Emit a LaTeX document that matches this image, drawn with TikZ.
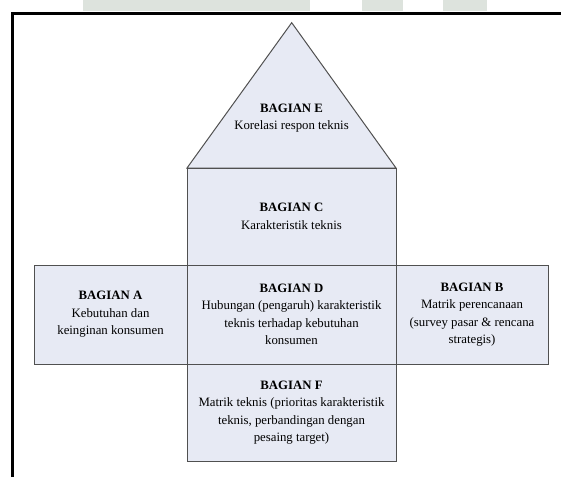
\documentclass[tikz,border=0pt]{standalone}
\usepackage{fontspec}
\setmainfont{Liberation Serif}
\usetikzlibrary{positioning}
\definecolor{boxfill}{HTML}{E7EAF4}
\definecolor{boxline}{HTML}{505050}
\definecolor{markfill}{HTML}{DDE3DD}
\tikzset{
  bagian/.style={fill=boxfill,draw=boxline,line width=1pt,line join=miter},
  isi/.style={align=center,inner sep=0pt,text=black,font=\fontsize{12.8}{17.5}\selectfont}
}

\begin{document}
\begin{tikzpicture}[x=1pt,y=-1pt]
\useasboundingbox (0,0) rectangle (561,477);
%watermark at the top
\fill[markfill] (83,0) rectangle (310,11);
\fill[markfill] (362,0) rectangle (403,11);
\fill[markfill] (443,0) rectangle (487,11);
%frame
\draw[line width=3pt] (12.5,477) -- (12.5,13) -- (561,13);
%roof
\draw[bagian] (187,168) -- (291.7,22.7) -- (396,168) -- cycle;
%rooms
\draw[bagian] (187,168) rectangle (396,265);
\draw[bagian] (34,265) rectangle (187,364);
\draw[bagian] (187,265) rectangle (396,364);
\draw[bagian] (396,265) rectangle (548,364);
\draw[bagian] (187,364) rectangle (396,461);
%texts
\node[isi] (bagE) at (291.5,118) {\textbf{BAGIAN E}\\Korelasi respon teknis};
\node[isi] (bagC) at (291.5,216.5) {\textbf{BAGIAN C}\\Karakteristik teknis};
\node[isi] (bagA) at (110.5,314.5) {\textbf{BAGIAN A}\\Kebutuhan dan\\keinginan konsumen};
\node[isi] (bagD) at (291.5,314.5) {\textbf{BAGIAN D}\\Hubungan (pengaruh) karakteristik\\teknis terhadap kebutuhan\\konsumen};
\node[isi] (bagB) at (472,314.5) {\textbf{BAGIAN B}\\Matrik perencanaan\\(survey pasar \& rencana\\strategis)};
\node[isi] (bagF) at (291.5,412.5) {\textbf{BAGIAN F}\\Matrik teknis (prioritas karakteristik\\teknis, perbandingan dengan\\pesaing target)};
\end{tikzpicture}
\end{document}
